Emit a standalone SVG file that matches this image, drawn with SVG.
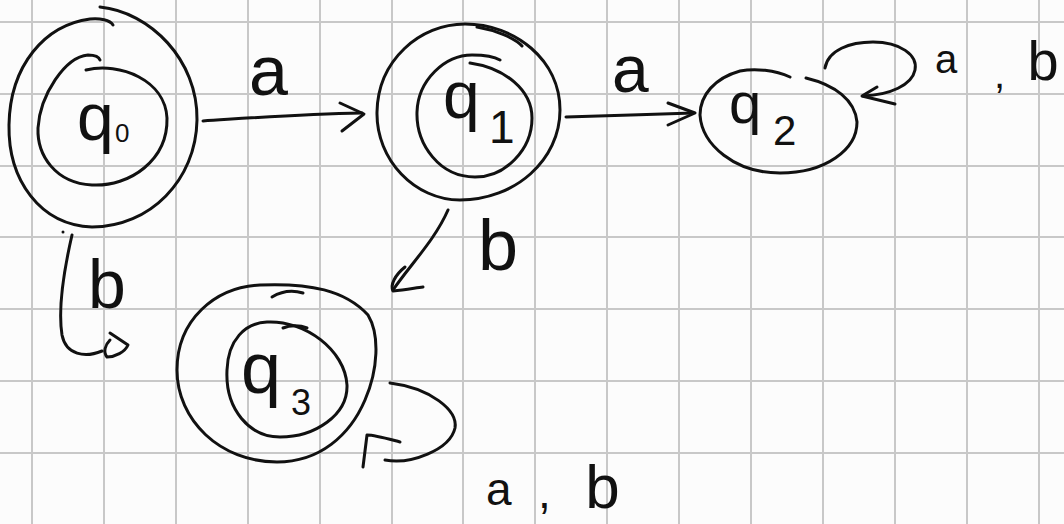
<svg xmlns="http://www.w3.org/2000/svg" width="1064" height="524" viewBox="0 0 1064 524">
<style>
.grid line{stroke:#c8c8c8;stroke-width:2}
.ink{fill:none;stroke:#111;stroke-width:3;stroke-linecap:round;stroke-linejoin:round}
.lbl{font-family:"Liberation Sans",Arial,sans-serif;fill:#111}
</style>
<rect width="1064" height="524" fill="#fcfcfc"/>
<g class="grid">
<line x1="32" y1="0" x2="32" y2="524"/><line x1="104" y1="0" x2="104" y2="524"/><line x1="176" y1="0" x2="176" y2="524"/><line x1="248" y1="0" x2="248" y2="524"/><line x1="320" y1="0" x2="320" y2="524"/><line x1="392" y1="0" x2="392" y2="524"/><line x1="463" y1="0" x2="463" y2="524"/><line x1="535" y1="0" x2="535" y2="524"/><line x1="607" y1="0" x2="607" y2="524"/><line x1="679" y1="0" x2="679" y2="524"/><line x1="751" y1="0" x2="751" y2="524"/><line x1="823" y1="0" x2="823" y2="524"/><line x1="895" y1="0" x2="895" y2="524"/><line x1="967" y1="0" x2="967" y2="524"/><line x1="1039" y1="0" x2="1039" y2="524"/>
<line x1="0" y1="22" x2="1064" y2="22"/><line x1="0" y1="94" x2="1064" y2="94"/><line x1="0" y1="166" x2="1064" y2="166"/><line x1="0" y1="237" x2="1064" y2="237"/><line x1="0" y1="309" x2="1064" y2="309"/><line x1="0" y1="381" x2="1064" y2="381"/><line x1="0" y1="453" x2="1064" y2="453"/>
</g>
<g id="connectors">
<path class="ink" d="M203,121 C250,118 300,114 362,113"/>
<path class="ink" d="M340,103 L364,114 L342,131"/>
<path class="ink" d="M566,117 C610,116 650,114 693,113"/>
<path class="ink" d="M668,103 L695,113 L668,125"/>
<path class="ink" d="M825,68 C828,50 850,42 873,42 C900,42 918,55 915,70 C912,85 890,95 863,96"/>
<path class="ink" d="M877,87 L862,96 L895,104"/>
<path class="ink" d="M448,210 C435,240 410,265 393,290"/>
<path class="ink" d="M405,267 C395,275 390,285 393,291 C405,290 415,288 423,287"/>
<circle cx="63" cy="232" r="1.5" fill="#111"/>
<path class="ink" d="M72,235 C64,270 58,310 62,335 C66,355 85,358 102,351"/>
<path class="ink" d="M110,333 L128,345 C125,352 115,357 107,357 C103,352 105,345 110,340"/>
<path class="ink" d="M390,383 C430,388 458,410 455,428 C450,450 410,465 385,460"/>
<path class="ink" d="M400,442 C385,438 375,435 367,435 L363,467"/>
<text class="lbl" x="249" y="95" font-size="70">a</text>
<text class="lbl" x="612" y="92" font-size="66">a</text>
<text class="lbl" x="478" y="270" font-size="72">b</text>
<text class="lbl" x="88" y="308" font-size="68">b</text>
<text class="lbl" y="73"><tspan x="935" font-size="40">a</tspan><tspan x="994" y="88" font-size="40">,</tspan><tspan x="1012" y="80" font-size="56"> b</tspan></text>
<text class="lbl" y="505"><tspan x="486" font-size="46">a</tspan><tspan x="538" y="508" font-size="46">,</tspan><tspan x="568" y="508" font-size="62"> b</tspan></text>
</g>
<g id="q0">
<path class="ink" d="M100,7 C150,12 198,60 197,120 C196,180 150,227 92,227 C40,225 8,180 9,125 C10,65 45,25 90,19 C100,18 110,20 113,25"/>
<path class="ink" d="M86,70 C120,62 165,80 167,118 C168,160 130,187 92,185 C55,183 37,155 38,128 C40,95 65,57 88,55 C94,55 99,57 100,60"/>
<text class="lbl" x="77" y="140" font-size="66">q</text>
<text class="lbl" x="115" y="142" font-size="26">0</text>
</g>
<g id="q1">
<path class="ink" d="M477,27 C495,30 515,38 522,46"/>
<path class="ink" d="M465,24 C420,24 378,60 377,112 C376,160 415,200 460,200 C515,200 560,160 560,110 C560,60 515,24 465,24 Z"/>
<path class="ink" d="M470,63 C505,68 532,90 532,118 C532,150 505,177 475,177 C440,177 416,145 417,112 C418,80 445,55 472,55 C485,55 495,57 500,60"/>
<text class="lbl" x="443" y="118" font-size="66">q</text>
<text class="lbl" x="489" y="143" font-size="46">1</text>
</g>
<g id="q2">
<path class="ink" d="M790,77 C775,70 755,68 740,71 C715,78 700,95 700,115 C702,145 735,173 780,173 C825,173 857,150 857,122 C855,100 835,85 806,78"/>
<text class="lbl" x="729" y="123" font-size="58">q</text>
<text class="lbl" x="773" y="145" font-size="42">2</text>
</g>
<g id="q3">
<path class="ink" d="M272,297 C282,291 293,290 303,293"/>
<path class="ink" d="M260,285 C310,283 345,290 368,315 C380,335 378,370 365,400 C350,435 320,462 277,462 C220,462 177,420 177,370 C177,320 215,287 260,285 Z"/>
<path class="ink" d="M283,328 C290,325 300,325 307,328"/>
<path class="ink" d="M267,322 C305,320 345,350 347,385 C348,415 315,437 280,437 C250,437 225,410 227,370 C228,340 245,323 267,322 Z"/>
<text class="lbl" x="241" y="393" font-size="72">q</text>
<text class="lbl" x="291" y="415" font-size="36">3</text>
</g>
</svg>
